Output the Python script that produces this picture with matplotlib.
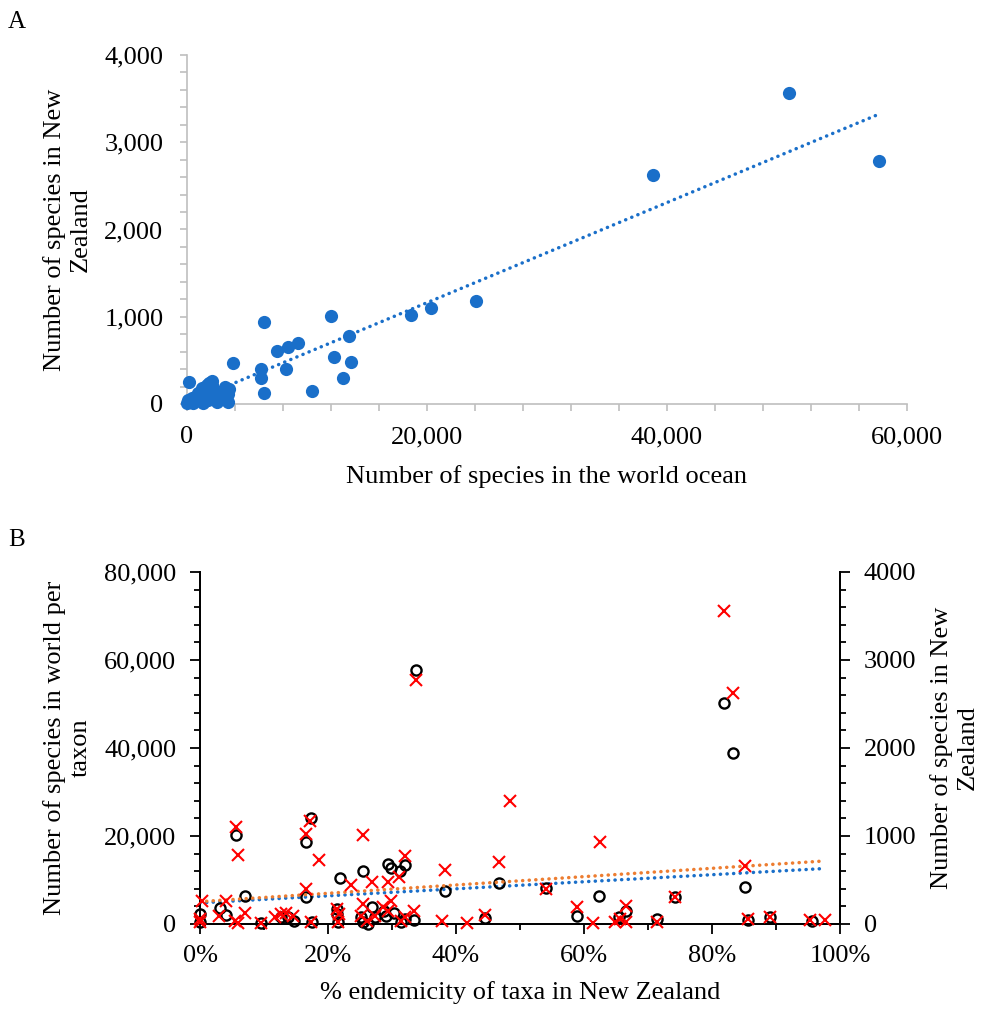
import numpy as np
import matplotlib
matplotlib.use("Agg")
import matplotlib.pyplot as plt
from matplotlib.ticker import MultipleLocator, FuncFormatter

plt.rcParams['font.family'] = ['Liberation Serif', 'DejaVu Serif']

# ---- panel A: species in world ocean vs species in New Zealand ----
world_a = [50200, 57700, 38800, 24100, 20350, 18700, 12000, 6450, 13500, 9250,
           8450, 7500, 12270, 13700, 3800, 6180, 8230, 6180, 13000, 10450,
           6450, 150, 2100, 1650, 3150, 3500, 3450, 3400,
           20, 110, 250, 390, 670, 940, 1080, 1360, 1500, 1640,
           1780, 1920, 2190, 2330, 2470, 2610, 2050, 800, 530, 1220, 1850]
nz_a = [3560, 2780, 2630, 1175, 1095, 1020, 1012, 936, 778, 703,
        657, 611, 542, 483, 474, 399, 401, 302, 298, 145,
        130, 252, 265, 215, 195, 172, 110, 27,
        8, 46, 27, 65, 84, 122, 46, 8, 84, 160,
        46, 103, 65, 141, 27, 103, 218, 46, 8, 180, 240]

# ---- panel B: endemicity vs world species (circles, left) and NZ species (crosses, right) ----
endem_world = [33.8, 81.8, 83.3, 17.3, 5.6, 16.5, 25.4, 29.4, 29.9, 32.1,
               31.2, 21.9, 7.0, 16.5, 38.3, 46.7, 54.0, 62.4, 85.1, 74.2,
               66.6, 58.9, 71.4, 89.0, 85.6, 95.7, 65.4, 44.5, 0.0, 0.0,
               3.2, 4.0, 9.6, 12.7, 13.7, 14.7, 17.5, 21.4, 21.4, 21.5,
               25.1, 25.5, 26.8, 27.4, 26.3, 28.8, 29.1, 30.3, 31.4, 32.1, 33.4]
world_b = [57840, 50250, 38860, 24140, 20270, 18600, 11990, 13660, 12750, 13430,
           12140, 10470, 6450, 6070, 7440, 9260, 8200, 6450, 8350, 6070,
           3040, 1900, 1140, 1670, 990, 610, 1520, 1290, 2280, 380,
           3570, 2050, 150, 1520, 1520, 760, 380, 3420, 2280, 380,
           1670, 380, 3800, 1520, 100, 3040, 1900, 2430, 380, 1140, 910]

endem_nz = [81.8, 83.3, 33.8, 48.5, 62.5, 5.6, 6.0, 17.2, 16.5, 25.4,
            18.6, 32.0, 38.3, 46.7, 31.1, 29.4, 26.8, 23.6, 85.1, 16.5,
            54.0, 74.2, 58.9, 66.6, 0.3, 4.0, 7.0, 3.0, 5.4, 6.0,
            11.7, 13.4, 14.6, 17.4, 21.4, 21.7, 21.5, 25.4, 25.1, 26.1,
            27.4, 28.6, 29.4, 29.9, 31.4, 32.1, 33.4, 37.8, 41.7, 44.5,
            61.4, 64.9, 65.6, 66.6, 71.4, 85.6, 89.0, 95.3, 97.7, 0.0,
            0.0, 9.6, 12.7]
nz_b = [3556, 2626, 2770, 1397, 930, 1100, 786, 1176, 1025, 1013,
        729, 778, 615, 702, 539, 474, 474, 444, 664, 398,
        398, 304, 190, 209, 258, 266, 125, 95, 38, 8,
        76, 121, 95, 19, 171, 114, 19, 228, 95, 38,
        95, 190, 152, 266, 38, 76, 152, 38, 8, 102,
        8, 19, 57, 19, 19, 57, 83, 46, 46, 19,
        57, 8, 114]

blue = '#1a6fc9'
orange = '#ed7d31'
grey = '#bfbfbf'
dots = (0, (0.05, 1.85))
fs = 19

fig = plt.figure(figsize=(9.9, 10.09), dpi=100)

# ---------------- panel A ----------------
axA = fig.add_axes([187/990, 1-404/1009, 720/990, 349/1009])
axA.plot(world_a, nz_a, 'o', color=blue, ms=9.5, mec='none', clip_on=False, zorder=3)
k, b = np.polyfit(world_a, nz_a, 1)
xs = np.array([min(world_a), max(world_a)])
axA.plot(xs, k*xs + b, color=blue, lw=2.5, ls=dots, dash_capstyle='round', zorder=2)
axA.set_xlim(0, 60000)
axA.set_ylim(0, 4000)
axA.xaxis.set_major_locator(MultipleLocator(20000))
axA.xaxis.set_minor_locator(MultipleLocator(4000))
axA.yaxis.set_major_locator(MultipleLocator(1000))
axA.yaxis.set_minor_locator(MultipleLocator(200))
comma = FuncFormatter(lambda v, p: f'{int(v):,}')
axA.xaxis.set_major_formatter(comma)
axA.yaxis.set_major_formatter(comma)
for s in ['top', 'right']:
    axA.spines[s].set_visible(False)
for s in ['left', 'bottom']:
    axA.spines[s].set_color(grey)
    axA.spines[s].set_linewidth(1.2)
axA.tick_params(which='both', color=grey, width=1.2, length=5, labelsize=fs)
axA.tick_params(axis='y', which='major', pad=12)
axA.tick_params(axis='x', which='major', pad=11)
axA.set_xlabel('Number of species in the world ocean', fontsize=fs, labelpad=12)
axA.set_ylabel('Number of species in New\nZealand', fontsize=fs, labelpad=9)
fig.text(8/990, 1-28/1009, 'A', fontsize=18)

# ---------------- panel B ----------------
axB = fig.add_axes([200/990, 1-924/1009, 640/990, 352/1009])
axB2 = axB.twinx()
axB.plot(endem_world, world_b, 'o', mfc='none', mec='black', mew=1.7, ms=7.3,
         clip_on=False, zorder=3)
axB2.plot(endem_nz, nz_b, 'x', color='red', mew=1.5, ms=8.5, clip_on=False, zorder=3)

k1, b1 = np.polyfit(endem_world, world_b, 1)
k2, b2 = np.polyfit(endem_nz, nz_b, 1)
xb = np.array([0, max(max(endem_world), max(endem_nz))])
axB.plot(xb, k1*xb + b1, color=blue, lw=2.5, ls=dots, dash_capstyle='round', zorder=2)
axB2.plot(xb, k2*xb + b2, color=orange, lw=2.5, ls=dots, dash_capstyle='round', zorder=2)

axB.set_xlim(0, 100)
axB.set_ylim(0, 80000)
axB2.set_ylim(0, 4000)
axB.xaxis.set_major_locator(MultipleLocator(20))
axB.xaxis.set_minor_locator(MultipleLocator(10))
axB.yaxis.set_major_locator(MultipleLocator(20000))
axB.yaxis.set_minor_locator(MultipleLocator(4000))
axB2.yaxis.set_major_locator(MultipleLocator(1000))
axB2.yaxis.set_minor_locator(MultipleLocator(200))
axB.xaxis.set_major_formatter(FuncFormatter(lambda v, p: f'{int(v)}%'))
axB.yaxis.set_major_formatter(comma)
axB2.yaxis.set_major_formatter(FuncFormatter(lambda v, p: f'{int(v)}'))
for a in (axB, axB2):
    a.spines['top'].set_visible(False)
    for s in ['left', 'right', 'bottom']:
        a.spines[s].set_linewidth(1.3)
    a.tick_params(which='major', length=7, width=1.3, labelsize=fs)
    a.tick_params(which='minor', length=4, width=1.3)
axB.tick_params(axis='y', which='major', pad=10)
axB.tick_params(axis='x', which='major', pad=8)
axB2.tick_params(axis='y', which='major', pad=10)
axB.set_xlabel('% endemicity of taxa in New Zealand', fontsize=fs, labelpad=10)
axB.set_ylabel('Number of species in world per\ntaxon', fontsize=fs, labelpad=9)
axB2.set_ylabel('Number of species in New\nZealand', fontsize=fs, labelpad=10)
fig.text(8/990, 1-546/1009, 'B', fontsize=18)

fig.savefig('out.png', dpi=100)
